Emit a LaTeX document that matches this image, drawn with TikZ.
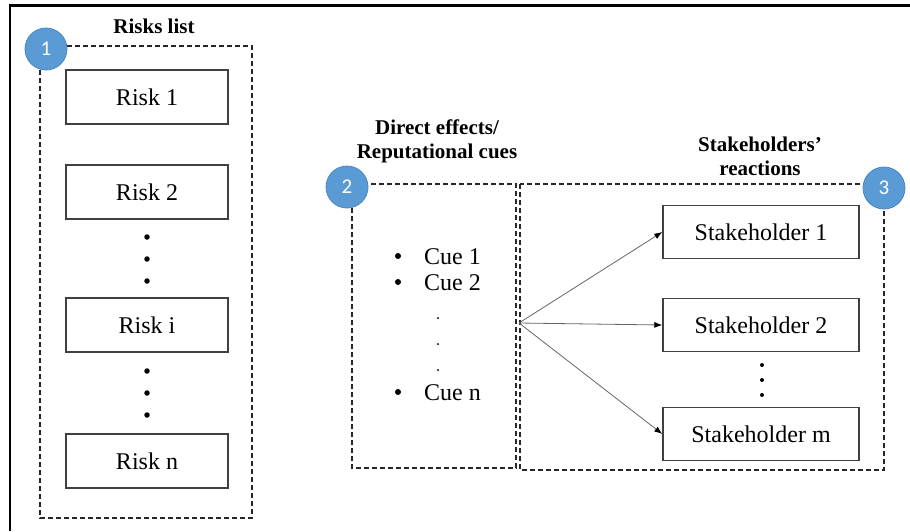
\documentclass[tikz,border=0pt]{standalone}
\usepackage{fontspec}
\setmainfont{Liberation Serif}
\newfontfamily\numfont{Carlito}
\usetikzlibrary{arrows.meta}
\definecolor{badgeblue}{HTML}{5B9BD5}
\definecolor{badgeedge}{HTML}{4A86C0}
\definecolor{boxedge}{HTML}{404040}
\tikzset{
  itembox/.style={draw=boxedge, line width=1.4pt, minimum width=162pt, minimum height=54pt,
    inner sep=0pt, font=\fontsize{24}{28}\selectfont},
  stakebox/.style={itembox, minimum width=196pt, minimum height=53pt},
  groupbox/.style={draw=black!85, line width=1.3pt, dash pattern=on 5pt off 3pt},
  badge/.style={circle, fill=badgeblue, draw=badgeedge, line width=0.8pt, minimum size=42pt,
    inner sep=0pt, text=white, font=\numfont\fontsize{21}{24}\selectfont},
  grouptitle/.style={align=center, inner sep=0pt, font=\fontsize{21}{24}\selectfont\bfseries},
  cuetext/.style={anchor=west, inner sep=0pt, font=\fontsize{24}{28}\selectfont},
  bulletdot/.style={circle, fill=black, inner sep=0pt, minimum size=6pt},
  link/.style={draw=black!60, line width=0.8pt, -{Latex[length=8pt,width=6pt,black]}},
  ellipsisdot/.style={circle, fill=black, inner sep=0pt, minimum size=5.5pt},
  smalldot/.style={circle, fill=black!80, inner sep=0pt, minimum size=2.5pt}
}
\begin{document}
\begin{tikzpicture}[x=1pt, y=-1pt]
\useasboundingbox (0,0) rectangle (910,531);
\fill[white] (0,0) rectangle (910,531);

% outer frame (top and left edges)
\draw[line width=2.5pt] (10,531) -- (10,5.5) -- (910,5.5);

% group frames
\draw[groupbox] (40,46) rectangle (252,518);
\draw[groupbox] (352,184) rectangle (516,468);
\draw[groupbox] (520,184) rectangle (884,470);

% group titles
\node[grouptitle] (t1) at (154,26) {Risks list};
\node[grouptitle, text depth=0pt] (t2) at (437,139) {\fontsize{21}{25}\selectfont Direct effects/\\Reputational cues};
\node[grouptitle] (t3) at (760,156) {\fontsize{21}{23}\selectfont Stakeholders’\\reactions};

% risks
\node[itembox] (r1) at (147,97) {Risk 1};
\node[itembox] (r2) at (147,192) {Risk 2};
\node[itembox] (ri) at (147,325) {Risk i};
\node[itembox] (rn) at (147,461) {Risk n};
\node[ellipsisdot] (rd1) at (147,237) {};
\node[ellipsisdot] (rd2) at (147,259) {};
\node[ellipsisdot] (rd3) at (147,281) {};
\node[ellipsisdot] (rd4) at (147,371) {};
\node[ellipsisdot] (rd5) at (147,393) {};
\node[ellipsisdot] (rd6) at (147,415) {};

% cues
\node[bulletdot] (b1) at (398,256) {};
\node[cuetext] (c1) at (424,257) {Cue 1};
\node[bulletdot] (b2) at (398,282) {};
\node[cuetext] (c2) at (424,283) {Cue 2};
\node[smalldot] (cd1) at (438,318) {};
\node[smalldot] (cd2) at (438,344) {};
\node[smalldot] (cd3) at (438,370) {};
\node[bulletdot] (bn) at (398,392) {};
\node[cuetext] (cn) at (424,393) {Cue n};

% stakeholders
\node[stakebox] (s1) at (761,232) {Stakeholder 1};
\node[stakebox] (s2) at (761,325) {Stakeholder 2};
\node[stakebox] (sm) at (761,434) {Stakeholder m};
\node[ellipsisdot, minimum size=4pt] (sd1) at (762,365) {};
\node[ellipsisdot, minimum size=4pt] (sd2) at (762,380) {};
\node[ellipsisdot, minimum size=4pt] (sd3) at (762,395) {};

% connectors from the cue group to each stakeholder
\coordinate (src) at (519,323);
\draw[link] (src) -- (s1.west);
\draw[link] (src) -- (s2.west);
\draw[link] (src) -- (sm.west);

% numbered badges
\node[badge] (n1) at (46,49) {1};
\node[badge] (n2) at (347,187) {2};
\node[badge] (n3) at (884,188) {3};
\end{tikzpicture}
\end{document}
